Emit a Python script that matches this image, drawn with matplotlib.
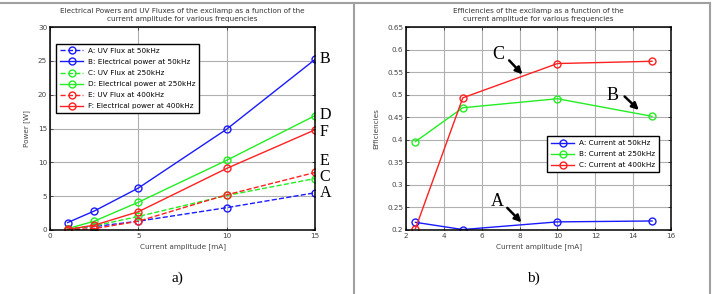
import matplotlib
matplotlib.use("Agg")
import matplotlib.pyplot as plt
from matplotlib.lines import Line2D

# ---- data: panel a ----
x_a = [1, 2.5, 5, 10, 15]
uv_50 = [0.2, 0.5, 1.3, 3.3, 5.5]
el_50 = [1.1, 2.8, 6.2, 14.9, 25.2]
uv_250 = [0.1, 0.6, 2.0, 5.1, 7.6]
el_250 = [0.2, 1.3, 4.1, 10.3, 16.9]
uv_400 = [0.05, 0.2, 1.3, 5.2, 8.5]
el_400 = [0.1, 0.7, 2.7, 9.1, 14.8]
labels_a = ["A: UV Flux at 50kHz", "B: Electrical power at 50kHz",
            "C: UV Flux at 250kHz", "D: Electrical power at 250kHz",
            "E: UV Flux at 400kHz", "F: Electrical power at 400kHz"]

# ---- data: panel b ----
x_b = [2.5, 5, 10, 15]
eff_50 = [0.217, 0.201, 0.218, 0.220]
eff_250 = [0.396, 0.471, 0.491, 0.452]
eff_400 = [0.203, 0.493, 0.569, 0.574]
labels_b = ["A: Current at 50kHz", "B: Current at 250kHz", "C: Current at 400kHz"]

BLUE = "#1a1aff"
GREEN = "#22ee22"
RED = "#ff2020"

fig = plt.figure(figsize=(7.12, 2.94), dpi=100)
fs = 5.2

def style(ax):
    ax.grid(True, color="#b0b0b0", linewidth=0.8)
    ax.tick_params(direction="in", labelsize=fs, length=2.5, width=0.6,
                   top=True, right=True, pad=2, colors="#333333", labelcolor="#444444")
    for s in ax.spines.values():
        s.set_linewidth(1.1)
        s.set_color("black")

ax1 = fig.add_axes([50/712, 1-230/294, 265/712, 203/294])
series = [(uv_50, BLUE, "--"), (el_50, BLUE, "-"), (uv_250, GREEN, "--"),
          (el_250, GREEN, "-"), (uv_400, RED, "--"), (el_400, RED, "-")]
for (y, c, ls), lab in zip(series, labels_a):
    ax1.plot(x_a, y, color=c, linestyle=ls, marker="o", markersize=5,
             markerfacecolor="none", markeredgewidth=1.0, linewidth=1.0, label=lab)
ax1.set_xlim(0, 15)
ax1.set_ylim(0, 30)
ax1.set_xticks([0, 5, 10, 15])
ax1.set_yticks([0, 5, 10, 15, 20, 25, 30])
style(ax1)
ax1.set_xlabel("Current amplitude [mA]", fontsize=fs, color="#444444", labelpad=3)
ax1.set_ylabel("Power [W]", fontsize=fs, color="#444444", labelpad=6)
ax1.set_title("Electrical Powers and UV Fluxes of the excilamp as a function of the\ncurrent amplitude for various frequencies",
              fontsize=fs, color="#333333", pad=4, linespacing=1.5)
leg1 = ax1.legend(loc="upper left", bbox_to_anchor=(0.01, 0.935), fontsize=fs,
                  fancybox=False, edgecolor="black", framealpha=1, handlelength=3.2,
                  borderpad=0.55, labelspacing=0.7, handletextpad=0.6)
leg1.get_frame().set_linewidth(1.0)
for lab, yv in zip(["B", "D", "F", "E", "C", "A"], [25.2, 17.0, 14.5, 10.2, 7.8, 5.5]):
    ax1.text(15.25, yv, lab, fontsize=11.5, family="Liberation Serif",
             va="center", ha="left", clip_on=False)

ax2 = fig.add_axes([406/712, 1-230/294, 265/712, 203/294])
for y, c, lab in zip([eff_50, eff_250, eff_400], [BLUE, GREEN, RED], labels_b):
    ax2.plot(x_b, y, color=c, marker="o", markersize=5, markerfacecolor="none",
             markeredgewidth=1.0, linewidth=1.0, label=lab)
ax2.set_xlim(2, 16)
ax2.set_ylim(0.2, 0.65)
ax2.set_xticks([2, 4, 6, 8, 10, 12, 14, 16])
ax2.set_yticks([0.2, 0.25, 0.3, 0.35, 0.4, 0.45, 0.5, 0.55, 0.6, 0.65])
ax2.set_yticklabels(["0.2", "0.25", "0.3", "0.35", "0.4", "0.45", "0.5", "0.55", "0.6", "0.65"])
style(ax2)
ax2.set_xlabel("Current amplitude [mA]", fontsize=fs, color="#444444", labelpad=3)
ax2.set_ylabel("Efficiencies", fontsize=fs, color="#444444", labelpad=6)
ax2.set_title("Efficiencies of the excilamp as a function of the\ncurrent amplitude for various frequencies",
              fontsize=fs, color="#333333", pad=4, linespacing=1.5)
leg2 = ax2.legend(loc="upper left", bbox_to_anchor=(0.52, 0.48), fontsize=fs,
                  fancybox=False, edgecolor="black", framealpha=1, handlelength=3.2,
                  borderpad=0.55, labelspacing=0.7, handletextpad=0.6)
leg2.get_frame().set_linewidth(1.0)

arrowprops = dict(arrowstyle="-|>", color="black", lw=1.8, mutation_scale=10,
                  shrinkA=0, shrinkB=0)
for lab, tpos, start, tip in [("C", (6.85, 0.588), (7.45, 0.576), (8.15, 0.545)),
                              ("B", (12.9, 0.499), (13.55, 0.496), (14.3, 0.466)),
                              ("A", (6.85, 0.263), (7.35, 0.249), (8.1, 0.217))]:
    ax2.text(*tpos, lab, fontsize=13, family="Liberation Serif", ha="center", va="center")
    ax2.annotate("", xy=tip, xytext=start, arrowprops=arrowprops)

fig.text(177/712, 1-278/294, "a)", fontsize=11, family="Liberation Serif", ha="center", va="center")
fig.text(533/712, 1-278/294, "b)", fontsize=11, family="Liberation Serif", ha="center", va="center")

# table borders
border = dict(color="#a0a0a0", linewidth=1.5, transform=fig.transFigure)
fig.add_artist(Line2D([0, 710/712], [1-2.5/294, 1-2.5/294], **border))
fig.add_artist(Line2D([354/712, 354/712], [0, 1-2.5/294], **border))
fig.add_artist(Line2D([709.5/712, 709.5/712], [0, 1-2.5/294], **border))

fig.savefig("out.png", dpi=100)
